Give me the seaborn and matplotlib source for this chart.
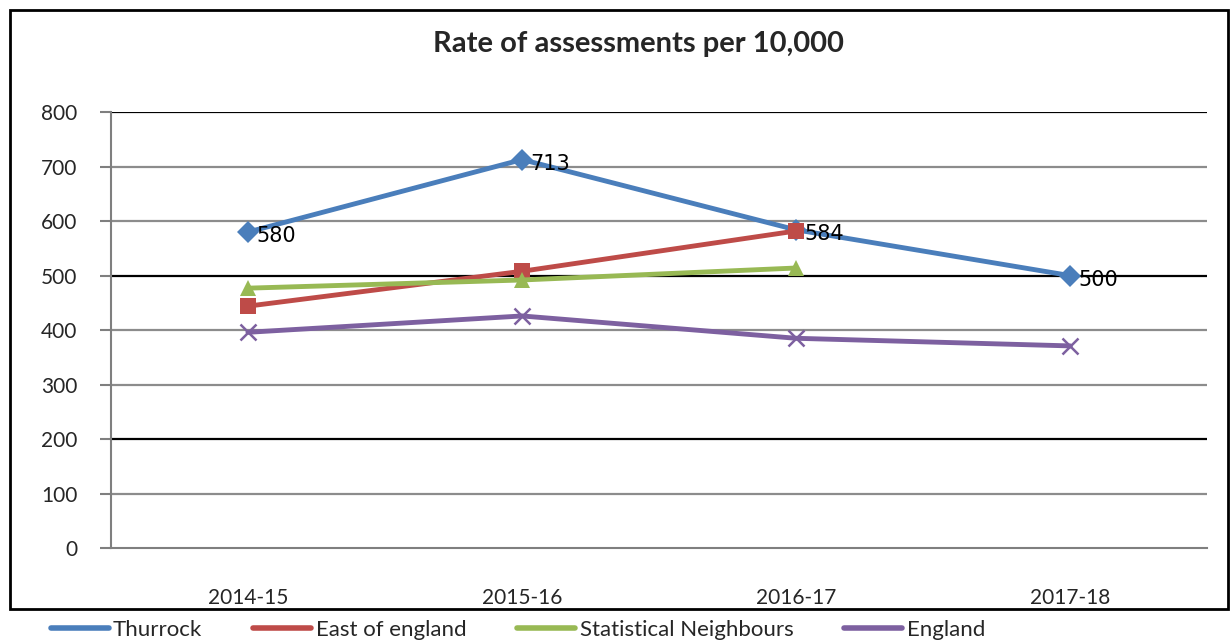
import pandas as pd
import seaborn as sns
import matplotlib.pyplot as plt
from matplotlib.patches import Rectangle
from matplotlib.lines import Line2D

# Dados
anos = ["2014-15", "2015-16", "2016-17", "2017-18"]
thurrock = [580, 713, 584, 500]
east_of_england = [444, 508, 582, None]
statistical_neighbours = [477, 492, 514, None]
england = [396, 426, 385, 371]

series = ["Thurrock", "East of england", "Statistical Neighbours", "England"]
cores = ["#4A7EBB", "#BE4B48", "#98B954", "#7D60A0"]
marcadores = ["D", "s", "^", "x"]

valores = [thurrock, east_of_england, statistical_neighbours, england]
linhas = []
for nome, vals in zip(series, valores):
    for ano, v in zip(anos, vals):
        linhas.append({"ano": ano, "valor": v, "serie": nome})
df = pd.DataFrame(linhas).dropna()

sns.set_style("white")
plt.rcParams["font.family"] = ["Lato", "DejaVu Sans"]

fig = plt.figure(figsize=(12.32, 6.41), dpi=100)
ax = fig.add_axes([0.090, 0.145, 0.890, 0.680])

# moldura externa
fig.patches.append(Rectangle((10 / 1232, 1 - 609 / 641), 1218 / 1232, 599 / 641,
                             transform=fig.transFigure, fill=False,
                             edgecolor="black", linewidth=2))

# linhas de grade
for y in range(100, 801, 100):
    cor = "black" if y in (200, 500, 800) else "#8c8c8c"
    ax.axhline(y, color=cor, linewidth=1.6, zorder=0)

for nome, cor, m in zip(series, cores, marcadores):
    d = df[df["serie"] == nome]
    sns.lineplot(data=d, x="ano", y="valor", ax=ax, color=cor, linewidth=3.5,
                 marker=m, markersize=11 if m != "x" else 12,
                 markeredgecolor=cor, markeredgewidth=1.8 if m == "x" else 0,
                 legend=False, zorder=3)

# rotulos de dados da Thurrock
for i, v in enumerate(thurrock):
    ax.text(i + 0.03, v - 8, str(v), fontsize=15, family="DejaVu Sans",
            va="center", ha="left", color="black", zorder=4)

ax.set_xlim(-0.5, 3.5)
ax.set_ylim(0, 800)
ax.set_yticks(range(0, 801, 100))
ax.set_xticks(range(len(anos)))
ax.set_xticklabels(anos)
ax.set_xticks([-0.5, 0.5, 1.5, 2.5, 3.5], minor=True)
ax.tick_params(axis="x", which="major", length=0, pad=29, labelsize=15)
ax.tick_params(axis="x", which="minor", length=8, color="#7f7f7f", width=1.5, direction="out")
ax.tick_params(axis="y", length=8, color="#7f7f7f", width=1.5, pad=16, labelsize=15,
               direction="out", left=True)
ax.set_xlabel("")
ax.set_ylabel("")
for s in ["top", "right"]:
    ax.spines[s].set_visible(False)
ax.spines["left"].set_color("#7f7f7f")
ax.spines["left"].set_linewidth(1.5)
ax.spines["bottom"].set_color("#7f7f7f")
ax.spines["bottom"].set_linewidth(1.5)

fig.text(0.518, 0.932, "Rate of assessments per 10,000", ha="center", va="center",
         fontsize=21, fontweight="bold")

handles = [Line2D([], [], color=c, linewidth=4) for c in cores]
fig.legend(handles, series, loc="center left", bbox_to_anchor=(0.025, 0.017), ncol=4,
           frameon=False, fontsize=16, handlelength=2.6, handletextpad=0.2,
           columnspacing=2.3)

fig.savefig("out.png", dpi=100)
